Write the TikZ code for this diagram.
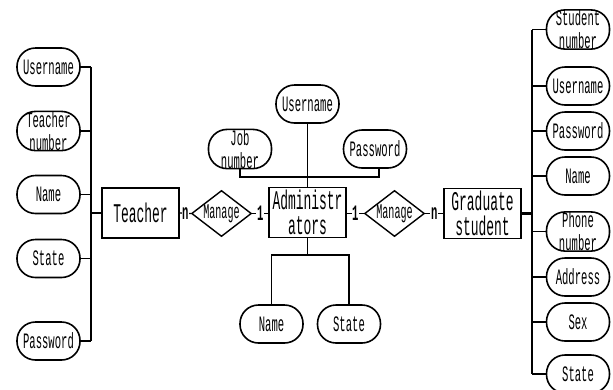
\documentclass[tikz,border=0pt]{standalone}
\usepackage{fontspec}
\newfontfamily\erfont[FakeStretch=0.48]{Liberation Mono}
\usetikzlibrary{shapes.geometric}
\tikzset{
  attr/.style={draw, line width=1.6pt, rounded corners=18.5pt, minimum width=63pt, minimum height=38pt, inner sep=0pt, align=center, font=\erfont\fontsize{22}{23}\selectfont},
  ent/.style={draw, line width=1.6pt, minimum width=77pt, minimum height=50pt, inner sep=0pt, align=center, font=\erfont\fontsize{27}{25}\selectfont},
  rel/.style={diamond, draw, line width=1.4pt, minimum width=55pt, minimum height=43pt, inner sep=0pt, aspect=1.3, font=\erfont\fontsize{21}{22}\selectfont},
  conn/.style={line width=1.3pt},
  thickconn/.style={line width=2.8pt},
  card/.style={fill=white, inner sep=0.6pt, font=\erfont\bfseries\fontsize{22}{22}\selectfont}
}
\begin{document}
\begin{tikzpicture}[x=1pt, y=-1pt]
\useasboundingbox (0,0) rectangle (613,389);
% Teacher side
\node[attr] (tu) at (48.5,67) {Username};
\node[attr] (tn) at (48.5,131) {Teacher\\number};
\node[attr] (tname) at (48.5,194.5) {Name};
\node[attr] (tst) at (48.5,258.5) {State};
\node[attr] (tpw) at (48.5,341) {Password};
\node[ent] (teacher) at (140.5,213) {Teacher};
\coordinate (lbtop) at (91,67);
\coordinate (lbbot) at (91,341);
\draw[conn] (lbtop) -- (lbbot);
\foreach \n in {tu,tn,tname,tst,tpw} \draw[conn] (\n.east) -- (\n.east -| lbtop);
\draw[thickconn] (teacher.west) -- (teacher.west -| lbtop);
% relationships
\node[rel] (r1) at (221.5,213.5) {Manage};
\node[ent] (admin) at (307.5,212.5) {Administr\\ators};
\node[rel] (r2) at (394.5,213.5) {Manage};
\node[ent] (grad) at (482.5,213.5) {Graduate\\student};
\draw[conn] (teacher.east) -- node[card] {n} (r1.west);
\draw[conn] (r1.east) -- node[card] {1} (admin.west |- r1.east);
\draw[conn] (admin.east |- r2.west) -- node[card] {1} (r2.west);
\draw[conn] (r2.east) -- node[card] {n} (grad.west |- r2.east);
% Administrator attributes
\node[attr] (au) at (307.5,104) {Username};
\node[attr] (aj) at (240,149) {Job\\number};
\node[attr] (apw) at (375,149) {Password};
\node[attr] (aname) at (271.5,324) {Name};
\node[attr] (ast) at (349,324) {State};
\coordinate (atop) at (307.5,177);
\coordinate (abot) at (307.5,255);
\draw[line width=0.9pt] (au.south) -- (admin.north);
\draw[conn] (aj.south) |- (atop) -| ([xshift=4pt]apw.south);
\draw[conn] (admin.south) -- (abot);
\draw[conn] (aname.north) |- (abot) -| (ast.north);
% Graduate student attributes
\node[attr] (gsn) at (578,29.5) {Student\\number};
\node[attr] (gu) at (578,86) {Username};
\node[attr] (gpw) at (578,131) {Password};
\node[attr] (gname) at (578,176) {Name};
\node[attr] (gph) at (578,231.5) {Phone\\number};
\node[attr] (gad) at (578,277) {Address};
\node[attr] (gsex) at (578,322) {Sex};
\node[attr] (gst) at (578,374) {State};
\coordinate (rbtop) at (532,29.5);
\coordinate (rbbot) at (532,374);
\draw[conn] (rbtop) -- (rbbot);
\foreach \n in {gsn,gu,gpw,gname,gph,gad,gsex,gst} \draw[conn] (\n.west) -- (\n.west -| rbtop);
\draw[thickconn] (grad.east) -- (grad.east -| rbtop);
\end{tikzpicture}
\end{document}
